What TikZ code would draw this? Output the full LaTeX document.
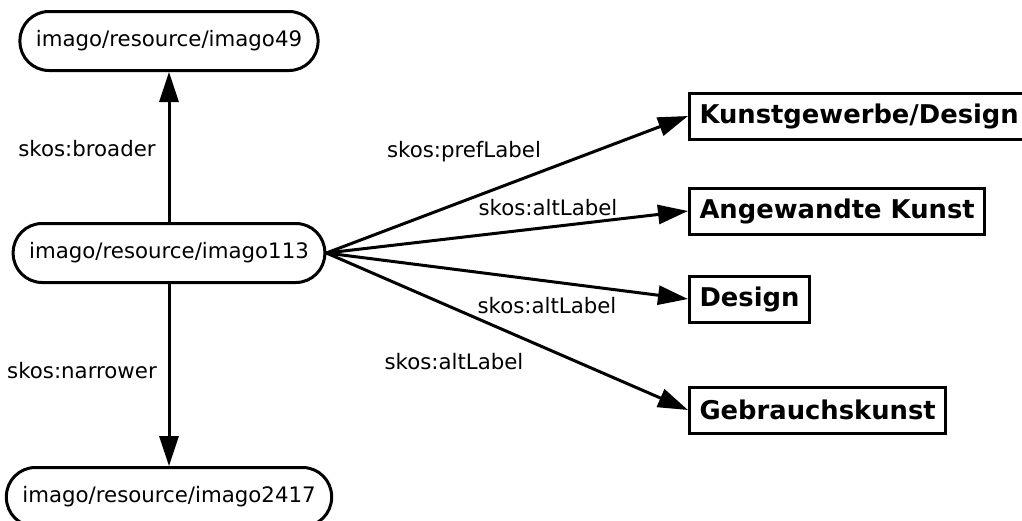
\documentclass[tikz,border=0pt]{standalone}
\usepackage{fontspec}
\setmainfont{DejaVu Sans}
\usetikzlibrary{positioning,arrows.meta}

\begin{document}
\begin{tikzpicture}[x=1pt,y=-1pt,
    >={Triangle[length=30pt,width=19pt]},
    every node/.style={font=\fontsize{21.3pt}{25pt}\selectfont},
    res/.style={draw, line width=3pt, rounded corners=29pt, minimum height=59pt, inner xsep=16pt},
    lit/.style={draw, line width=3pt, minimum height=46pt, inner xsep=10pt, anchor=west,
        font=\fontsize{25.8pt}{30pt}\selectfont\bfseries},
]
\useasboundingbox (0,0) rectangle (1022,520);
\path[line width=3pt,->]
node[res] (n113) at (169,253) {imago/resource/imago113}
node[res, above=150pt of n113] (n49) {imago/resource/imago49}
node[res, below=182pt of n113] (n2417) {imago/resource/imago2417}
(n113) edge (n49)
(n113) edge (n2417)

node[lit] (kunstgew) at (688,116) {Kunstgewerbe/Design}
node[lit] (angew) at (688,211) {Angewandte Kunst}
node[lit] (design) at (688,299) {Design}
node[lit] (gebrauch) at (688,410) {Gebrauchskunst}
(n113.east) edge (kunstgew.west)
(n113.east) edge (angew.west)
(n113.east) edge (design.west)
(n113.east) edge (gebrauch.west)
;
% edge labels
\node (lbroader) at (87,149) {skos:broader};
\node (lnarrower) at (82,371) {skos:narrower};
\node (lpref) at (464,152) {skos:prefLabel};
\node (lalt1) at (548,208) {skos:altLabel};
\node (lalt2) at (547,306) {skos:altLabel};
\node (lalt3) at (454,362) {skos:altLabel};
\end{tikzpicture}
\end{document}
